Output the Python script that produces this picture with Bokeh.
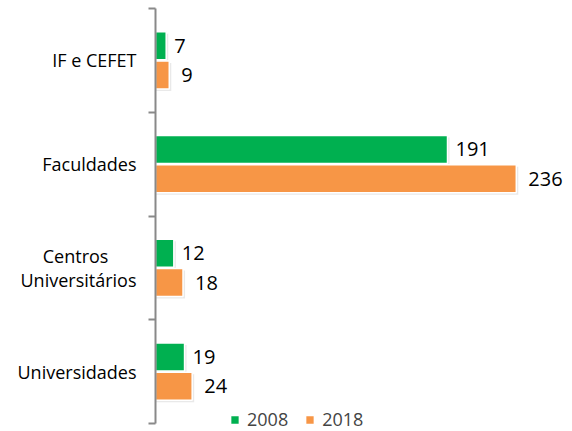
from bokeh.plotting import figure
from bokeh.models import FixedTicker, Legend, LegendItem, ColumnDataSource, Range1d
from bokeh.embed import file_html
from bokeh.resources import INLINE
from bokeh.core.properties import value

categories = ["Universidades", "Centros" + "\u00a0" * 6 + "\nUniversitários", "Faculdades", "IF e CEFET"]
v2008 = [19, 12, 191, 7]
v2018 = [24, 18, 236, 9]
years = ["2008", "2018"]

GREEN = "#00B050"
ORANGE = "#F79646"

W, H = 572, 431
left_border = 155
top_border = 8
axis_bottom_px = 423            # pixel where the category axis ends
band_px = (axis_bottom_px - top_border) / len(categories)
px_per_unit = (447 - 155) / 191.0
x_end = (W - left_border) / px_per_unit
y_start = -(H - axis_bottom_px) / band_px

p = figure(width=W, height=H, output_backend="svg", toolbar_location=None,
           x_range=Range1d(0, x_end), y_range=Range1d(y_start, len(categories)),
           min_border_left=left_border, min_border_right=0,
           min_border_top=top_border, min_border_bottom=0)
p.xaxis.visible = False
p.xgrid.visible = False
p.ygrid.visible = False
p.outline_line_color = None
p.background_fill_color = "white"
p.border_fill_color = "white"

centers = [i + 0.5 for i in range(len(categories))]
off = 0.142
hh = 0.27
y08 = [c + off for c in centers]
y18 = [c - off for c in centers]

src08 = ColumnDataSource(dict(y=y08, v=v2008, lab=[str(v) for v in v2008]))
src18 = ColumnDataSource(dict(y=y18, v=v2018, lab=[str(v) for v in v2018]))

# soft shadows
dx = 2.0 / px_per_unit
dy = 2.0 / band_px
sh08 = ColumnDataSource(dict(y=[y - dy for y in y08], v=[v + dx for v in v2008]))
sh18 = ColumnDataSource(dict(y=[y - dy for y in y18], v=[v + dx for v in v2018]))
for s in (sh08, sh18):
    p.hbar(y="y", right="v", left=0, height=hh, source=s, fill_color="#9a9a9a",
           fill_alpha=0.22, line_color=None)

r08 = p.hbar(y="y", right="v", left=0, height=hh, source=src08, fill_color=GREEN,
             line_color="white", line_width=1.5)
r18 = p.hbar(y="y", right="v", left=0, height=hh, source=src18, fill_color=ORANGE,
             line_color="white", line_width=1.5)

p.text(x="v", y="y", text="lab", source=src08, x_offset=8, y_offset=0,
       text_font=value("Open Sans"), text_font_size="20px", text_color="#000000",
       text_baseline="middle", text_align="left")
p.text(x="v", y="y", text="lab", source=src18, x_offset=12, y_offset=0,
       text_font=value("Open Sans"), text_font_size="20px", text_color="#000000",
       text_baseline="middle", text_align="left")

ax = p.yaxis[0]
ax.bounds = (0, len(categories))
ax.ticker = FixedTicker(ticks=centers, minor_ticks=list(range(len(categories) + 1)))
ax.major_label_overrides = {c: lab for c, lab in zip(centers, categories)}
ax.major_tick_out = 0
ax.major_tick_in = 0
ax.minor_tick_out = 7
ax.minor_tick_in = 0
ax.minor_tick_line_color = "#898989"
ax.minor_tick_line_width = 2
ax.axis_line_color = "#898989"
ax.axis_line_width = 2
ax.major_label_text_font = "Open Sans"
ax.major_label_text_font_size = "18px"
ax.major_label_text_color = "#000000"
ax.major_label_text_line_height = 1.0
ax.major_label_standoff = 12

legend = Legend(items=[LegendItem(label=years[0], renderers=[r08]),
                       LegendItem(label=years[1], renderers=[r18])],
                orientation="horizontal", location=(74, 0),
                glyph_width=11, glyph_height=11, label_standoff=7, spacing=16,
                padding=0, margin=0, border_line_color=None,
                background_fill_alpha=0, label_text_font="Open Sans",
                label_text_font_size="18px", label_height=20)
p.add_layout(legend, "center")

open("out.html", "w").write(file_html(p, INLINE))
